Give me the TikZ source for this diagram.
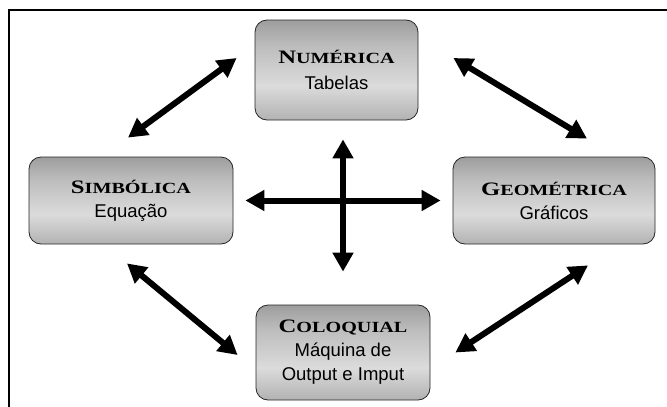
\documentclass[tikz,border=0pt]{standalone}
\usepackage{fontspec}
\setmainfont{Liberation Sans}
\newfontfamily\titlefont{Liberation Serif}[FakeStretch=1.3]
\usetikzlibrary{arrows.meta,fadings,calc}

% body of a box: dark bands top and bottom, light in the middle
\pgfdeclareverticalshading{boxbody}{100bp}{%
  color(0bp)=(black!72); color(20bp)=(black!35); color(42bp)=(black!14);
  color(62bp)=(black!26); color(100bp)=(black!62)}
% darkening towards the left and right sides
\pgfdeclarehorizontalshading{sideshade}{100bp}{%
  color(0bp)=(white); color(16bp)=(black); color(84bp)=(black); color(100bp)=(white)}
\pgfdeclarefading{sides}{\pgfuseshading{sideshade}}

% small-caps style heading: large first letter, smaller capitals after it
\newcommand\headword[2]{{\titlefont\bfseries\fontsize{19}{19}\selectfont #1\fontsize{15.5}{15.5}\selectfont #2}}

\tikzset{
  panel/.style={rounded corners=12pt, draw=black!85, line width=0.8pt,
    shading=boxbody, align=center, inner sep=0pt,
    font=\fontsize{18.5}{24}\selectfont,
    postaction={fill=black, fill opacity=0.6, path fading=sides}},
  link/.style={line width=6pt,
    {Triangle[length=19pt,width=20pt]}-{Triangle[length=19pt,width=20pt]}},
}

\begin{document}
\begin{tikzpicture}[x=1pt,y=-1pt]
\useasboundingbox (0,0) rectangle (667,407);

% outer frame (continues past the right and bottom edges)
\draw[line width=2.2pt] (9.2,420) -- (9.2,10.2) -- (680,10.2);

\node[panel, minimum width=163, minimum height=100] (numer) at (336.5,70)
  {\headword{N}{UMÉRICA}\\[2pt]Tabelas};
\node[panel, minimum width=204, minimum height=87] (simb) at (131,200.5)
  {\headword{S}{IMBÓLICA}\\Equação};
\node[panel, minimum width=202, minimum height=87] (geom) at (554,200.5)
  {\headword{G}{EOMÉTRICA}\\Gráficos};
\node[panel, minimum width=174, minimum height=95] (coloq) at (343,352.5)
  {\headword{C}{OLOQUIAL}\\Máquina de\\Output e Imput};

% central cross
\draw[link, shorten <=12pt, shorten >=12pt] (simb.east) -- (geom.west);
\draw[link] ($(numer.south -| coloq.north)+(0,19)$) -- ($(coloq.north)+(0,-33)$);

% diagonal links between neighbouring panels
\draw[link] ($(simb.north)+(-3,-19)$) -- ($(numer.west)+(-18,-12)$);
\draw[link] ($(numer.east)+(35,-12)$) -- ($(geom.north)+(33,-18)$);
\draw[link] ($(simb.south)+(-4,19)$) -- ($(coloq.west)+(-18,2.5)$);
\draw[link] ($(coloq.east)+(25,0)$) -- ($(geom.south)+(34,21)$);
\end{tikzpicture}
\end{document}
